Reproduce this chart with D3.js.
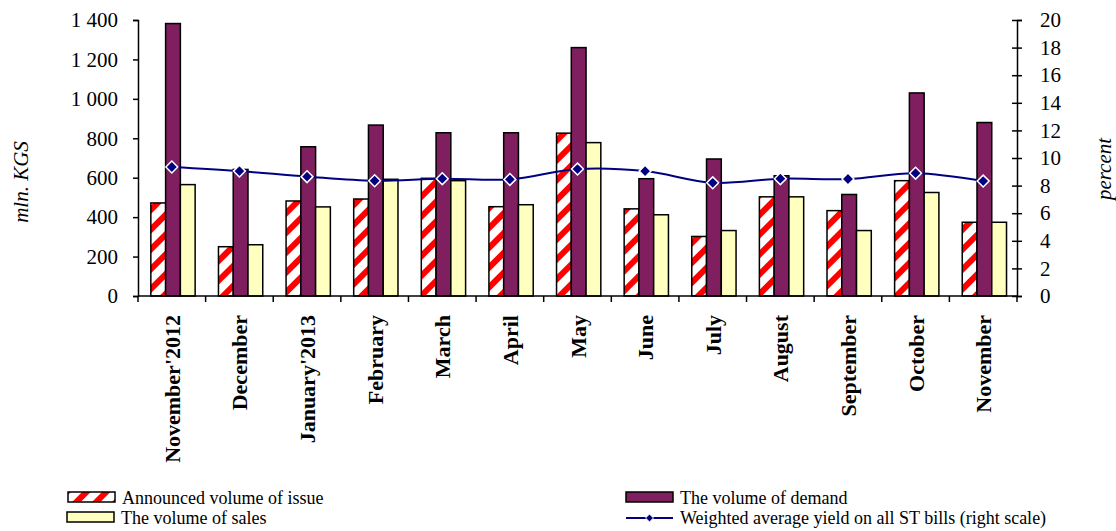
<!DOCTYPE html>
<head>
  <meta charset="utf-8">
  <script src="https://d3js.org/d3.v7.min.js"></script>
  <style>
    body { margin:0; background:#fff; }
    svg text { font-family: "Liberation Serif", "Times New Roman", serif; fill:#000; }
  </style>
</head>
<body>
<script>
  // chart data
  var months = ["November'2012", "December", "January'2013", "February", "March", "April",
                "May", "June", "July", "August", "September", "October", "November"];
  var announced = [472, 250, 482, 492, 597, 453, 826, 442, 302, 503, 433, 585, 374];
  var demand    = [1382, 642, 757, 867, 828, 828, 1260, 595, 695, 610, 515, 1030, 880];
  var sales     = [565, 260, 452, 592, 585, 463, 778, 412, 332, 503, 332, 525, 374];
  var yieldPct  = [9.35, 9.05, 8.65, 8.35, 8.5, 8.45, 9.2, 9.05, 8.2, 8.5, 8.48, 8.9, 8.33];
  var leftTicks = [0, 200, 400, 600, 800, 1000, 1200, 1400];
  var rightTicks = [0, 2, 4, 6, 8, 10, 12, 14, 16, 18, 20];

  var width = 1116, height = 531;
  var plot = {left: 138, right: 1017, top: 20, bottom: 296};

  var svg = d3.select("body").append("svg")
      .attr("width", width)
      .attr("height", height);

  // red/white diagonal stripes
  var defs = svg.append("defs");
  var pat = defs.append("pattern")
      .attr("id", "stripes")
      .attr("patternUnits", "userSpaceOnUse")
      .attr("width", 14).attr("height", 14)
      .attr("patternTransform", "rotate(45)");
  pat.append("rect").attr("width", 14).attr("height", 14).attr("fill", "#fff");
  pat.append("rect").attr("width", 6).attr("height", 14).attr("fill", "#ff0000");

  var x = d3.scaleBand()
      .domain(months)
      .range([plot.left, plot.right])
      .padding(0);

  var sub = d3.scaleBand()
      .domain(["announced", "demand", "sales"])
      .range([x.bandwidth() * 0.19, x.bandwidth() * 0.845]);

  var y = d3.scaleLinear().domain([0, 1400]).range([plot.bottom, plot.top]);
  var y2 = d3.scaleLinear().domain([0, 20]).range([plot.bottom, plot.top]);

  var fmt = d3.formatLocale({decimal: ".", thousands: " ", grouping: [3], currency: ["", ""]}).format(",d");

  // bars
  var series = [
    {key: "announced", values: announced, fill: "url(#stripes)"},
    {key: "demand", values: demand, fill: "#7f1f5f"},
    {key: "sales", values: sales, fill: "#ffffc0"}
  ];

  series.forEach(function(s) {
    svg.append("g").selectAll("rect")
      .data(s.values)
      .enter().append("rect")
        .attr("x", function(d, i) { return x(months[i]) + sub(s.key); })
        .attr("y", function(d) { return y(d); })
        .attr("width", sub.bandwidth())
        .attr("height", function(d) { return y(0) - y(d); })
        .attr("fill", s.fill)
        .attr("stroke", "#000")
        .attr("stroke-width", 1.5);
  });

  // left axis
  var leftAxis = svg.append("g")
      .attr("transform", "translate(" + plot.left + ",0)")
      .call(d3.axisLeft(y).tickValues(leftTicks).tickFormat(fmt).tickSizeOuter(0).tickSize(5).tickPadding(15));
  leftAxis.attr("font-family", null);
  leftAxis.selectAll("text").style("font-size", "21px");
  leftAxis.selectAll("path, line").attr("stroke", "#000").attr("stroke-width", 1.5);

  // right axis, ticks crossing the line
  var rightAxis = svg.append("g")
      .attr("transform", "translate(" + plot.right + ",0)")
      .call(d3.axisRight(y2).tickValues(rightTicks).tickSizeOuter(0).tickSize(5).tickPadding(18));
  rightAxis.attr("font-family", null);
  rightAxis.selectAll(".tick line").attr("x1", -5);
  rightAxis.selectAll("text").style("font-size", "21px");
  rightAxis.selectAll("path, line").attr("stroke", "#000").attr("stroke-width", 1.5);

  // bottom axis with ticks at category boundaries
  var bottom = svg.append("g");
  bottom.append("line")
      .attr("x1", plot.left).attr("x2", plot.right)
      .attr("y1", y(0)).attr("y2", y(0))
      .attr("stroke", "#000").attr("stroke-width", 1.5);
  bottom.selectAll(".bt")
      .data(months.concat(["end"]))
      .enter().append("line")
        .attr("x1", function(d, i) { return plot.left + i * x.bandwidth(); })
        .attr("x2", function(d, i) { return plot.left + i * x.bandwidth(); })
        .attr("y1", y(0)).attr("y2", y(0) + 6)
        .attr("stroke", "#000").attr("stroke-width", 1.5);
  bottom.selectAll(".lbl")
      .data(months)
      .enter().append("text")
        .attr("transform", function(d) {
          return "translate(" + (x(d) + x.bandwidth() / 2 + 8) + "," + (y(0) + 19) + ") rotate(-90)";
        })
        .attr("text-anchor", "end")
        .style("font-size", "22px")
        .style("font-weight", "bold")
        .text(function(d) { return d; });

  // yield line
  var line = d3.line()
      .x(function(d, i) { return x(months[i]) + x.bandwidth() / 2; })
      .y(function(d) { return y2(d); })
      .curve(d3.curveCatmullRom.alpha(0.5));

  svg.append("path")
      .datum(yieldPct)
      .attr("d", line)
      .attr("fill", "none")
      .attr("stroke", "#000080")
      .attr("stroke-width", 2);

  svg.append("g").selectAll("path")
    .data(yieldPct)
    .enter().append("path")
      .attr("d", d3.symbol().type(d3.symbolDiamond2).size(90))
      .attr("transform", function(d, i) {
        return "translate(" + (x(months[i]) + x.bandwidth() / 2) + "," + y2(d) + ")";
      })
      .attr("fill", "#000080")
      .attr("stroke", "#fff")
      .attr("stroke-width", 1.5);

  // axis titles
  svg.append("text")
      .attr("transform", "translate(28,182) rotate(-90)")
      .attr("text-anchor", "middle")
      .style("font-size", "21px")
      .style("font-style", "italic")
      .text("mln. KGS");

  svg.append("text")
      .attr("transform", "translate(1111,169) rotate(-90)")
      .attr("text-anchor", "middle")
      .style("font-size", "21px")
      .style("font-style", "italic")
      .text("percent");

  // legend
  var legend = [
    {label: "Announced volume of issue", fill: "url(#stripes)", x: 68, y: 492, type: "box"},
    {label: "The volume of sales", fill: "#ffffc0", x: 67, y: 512, type: "box"},
    {label: "The volume of demand", fill: "#7f1f5f", x: 626, y: 492, type: "box"},
    {label: "Weighted average yield on all ST bills (right scale)", fill: "#000080", x: 626, y: 512, type: "line"}
  ];

  var lg = svg.append("g").selectAll("g")
    .data(legend)
    .enter().append("g");

  lg.filter(function(d) { return d.type === "box"; }).append("rect")
      .attr("x", function(d) { return d.x; })
      .attr("y", function(d) { return d.y; })
      .attr("width", 47).attr("height", 10)
      .attr("fill", function(d) { return d.fill; })
      .attr("stroke", "#000").attr("stroke-width", 1.5);

  var lineItem = lg.filter(function(d) { return d.type === "line"; });
  lineItem.append("line")
      .attr("x1", function(d) { return d.x; })
      .attr("x2", function(d) { return d.x + 47; })
      .attr("y1", function(d) { return d.y + 6; })
      .attr("y2", function(d) { return d.y + 6; })
      .attr("stroke", "#000080").attr("stroke-width", 2);
  lineItem.append("path")
      .attr("d", d3.symbol().type(d3.symbolDiamond2).size(40))
      .attr("transform", function(d) { return "translate(" + (d.x + 23.5) + "," + (d.y + 6) + ")"; })
      .attr("fill", "#000080")
      .attr("stroke", "#fff");

  lg.append("text")
      .attr("x", function(d) { return d.x + 54; })
      .attr("y", function(d) { return d.y + 12; })
      .style("font-size", "18px")
      .text(function(d) { return d.label; });
</script>
</body>
